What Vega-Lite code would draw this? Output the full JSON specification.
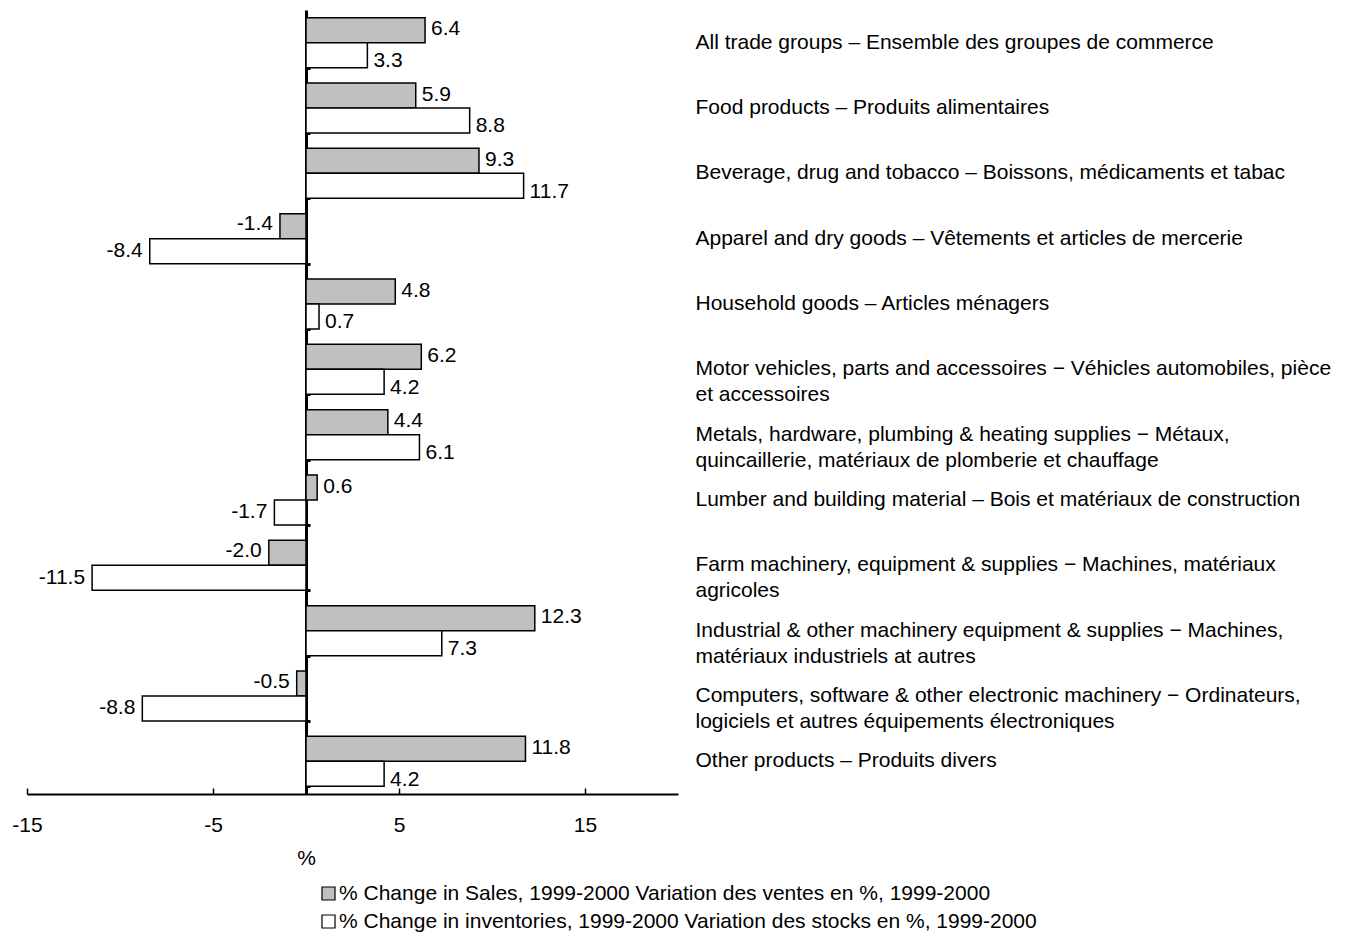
{
  "$schema": "https://vega.github.io/schema/vega-lite/v6.json",
  "width": 651,
  "height": 784,
  "padding": {"left": 11, "top": 10, "right": 5, "bottom": 5},
  "background": "white",
  "config": {
    "font": "Liberation Sans",
    "view": {"stroke": null},
    "locale": {"number": {"decimal": ".", "thousands": ",", "grouping": [3], "currency": ["$", ""], "minus": "-"}}
  },
  "data": {
    "values": [
      {"cat": "All trade groups – Ensemble des groupes de commerce", "series": "% Change in Sales, 1999-2000 Variation des ventes en %, 1999-2000", "value": 6.4},
      {"cat": "All trade groups – Ensemble des groupes de commerce", "series": "% Change in inventories, 1999-2000 Variation des stocks en %, 1999-2000", "value": 3.3},
      {"cat": "Food products – Produits alimentaires", "series": "% Change in Sales, 1999-2000 Variation des ventes en %, 1999-2000", "value": 5.9},
      {"cat": "Food products – Produits alimentaires", "series": "% Change in inventories, 1999-2000 Variation des stocks en %, 1999-2000", "value": 8.8},
      {"cat": "Beverage, drug and tobacco – Boissons, médicaments et tabac", "series": "% Change in Sales, 1999-2000 Variation des ventes en %, 1999-2000", "value": 9.3},
      {"cat": "Beverage, drug and tobacco – Boissons, médicaments et tabac", "series": "% Change in inventories, 1999-2000 Variation des stocks en %, 1999-2000", "value": 11.7},
      {"cat": "Apparel and dry goods – Vêtements et articles de mercerie", "series": "% Change in Sales, 1999-2000 Variation des ventes en %, 1999-2000", "value": -1.4},
      {"cat": "Apparel and dry goods – Vêtements et articles de mercerie", "series": "% Change in inventories, 1999-2000 Variation des stocks en %, 1999-2000", "value": -8.4},
      {"cat": "Household goods – Articles ménagers", "series": "% Change in Sales, 1999-2000 Variation des ventes en %, 1999-2000", "value": 4.8},
      {"cat": "Household goods – Articles ménagers", "series": "% Change in inventories, 1999-2000 Variation des stocks en %, 1999-2000", "value": 0.7},
      {"cat": "Motor vehicles, parts and accessoires − Véhicles automobiles, pièce|et accessoires", "series": "% Change in Sales, 1999-2000 Variation des ventes en %, 1999-2000", "value": 6.2},
      {"cat": "Motor vehicles, parts and accessoires − Véhicles automobiles, pièce|et accessoires", "series": "% Change in inventories, 1999-2000 Variation des stocks en %, 1999-2000", "value": 4.2},
      {"cat": "Metals, hardware, plumbing & heating supplies − Métaux,|quincaillerie, matériaux de plomberie et chauffage", "series": "% Change in Sales, 1999-2000 Variation des ventes en %, 1999-2000", "value": 4.4},
      {"cat": "Metals, hardware, plumbing & heating supplies − Métaux,|quincaillerie, matériaux de plomberie et chauffage", "series": "% Change in inventories, 1999-2000 Variation des stocks en %, 1999-2000", "value": 6.1},
      {"cat": "Lumber and building material – Bois et matériaux de construction", "series": "% Change in Sales, 1999-2000 Variation des ventes en %, 1999-2000", "value": 0.6},
      {"cat": "Lumber and building material – Bois et matériaux de construction", "series": "% Change in inventories, 1999-2000 Variation des stocks en %, 1999-2000", "value": -1.7},
      {"cat": "Farm machinery, equipment & supplies − Machines, matériaux|agricoles", "series": "% Change in Sales, 1999-2000 Variation des ventes en %, 1999-2000", "value": -2.0},
      {"cat": "Farm machinery, equipment & supplies − Machines, matériaux|agricoles", "series": "% Change in inventories, 1999-2000 Variation des stocks en %, 1999-2000", "value": -11.5},
      {"cat": "Industrial & other machinery equipment & supplies − Machines,|matériaux industriels at autres", "series": "% Change in Sales, 1999-2000 Variation des ventes en %, 1999-2000", "value": 12.3},
      {"cat": "Industrial & other machinery equipment & supplies − Machines,|matériaux industriels at autres", "series": "% Change in inventories, 1999-2000 Variation des stocks en %, 1999-2000", "value": 7.3},
      {"cat": "Computers, software & other electronic machinery − Ordinateurs,|logiciels et autres équipements électroniques", "series": "% Change in Sales, 1999-2000 Variation des ventes en %, 1999-2000", "value": -0.5},
      {"cat": "Computers, software & other electronic machinery − Ordinateurs,|logiciels et autres équipements électroniques", "series": "% Change in inventories, 1999-2000 Variation des stocks en %, 1999-2000", "value": -8.8},
      {"cat": "Other products – Produits divers", "series": "% Change in Sales, 1999-2000 Variation des ventes en %, 1999-2000", "value": 11.8},
      {"cat": "Other products – Produits divers", "series": "% Change in inventories, 1999-2000 Variation des stocks en %, 1999-2000", "value": 4.2}
    ]
  },
  "encoding": {
    "y": {"field": "cat", "type": "nominal", "sort": null,
          "scale": {"paddingInner": 0.235, "paddingOuter": 0.1175}},
    "yOffset": {"field": "series", "type": "nominal", "sort": null,
                "scale": {"paddingInner": 0, "paddingOuter": 0}},
    "x": {"field": "value", "type": "quantitative",
          "scale": {"domain": [-15, 20], "nice": false, "zero": false},
          "axis": {"values": [-15, -5, 5, 15], "grid": false, "title": "%", "format": "d",
                   "titleFontWeight": "normal", "titleFontSize": 21, "titleX": 279, "titleY": 64,
                   "titleBaseline": "middle", "titleAnchor": "middle", "labelFontSize": 21, "labelPadding": 37,
                   "labelFlush": false, "labelBaseline": "middle",
                   "domainColor": "black", "domainWidth": 2, "tickColor": "black", "tickWidth": 1.5,
                   "tickSize": -6, "labelColor": "black", "titleColor": "black"}}
  },
  "resolve": {"axis": {"y": "independent"}},
  "layer": [
    {
      "mark": {"type": "bar", "stroke": "black", "strokeWidth": 1.5},
      "encoding": {
        "y": {"field": "cat", "type": "nominal", "sort": null,
              "axis": {"orient": "left", "offset": -279, "labels": false, "title": null,
                       "domainColor": "black", "domainWidth": 3, "ticks": true, "tickBand": "extent",
                       "tickSize": -4, "tickWidth": 3, "tickColor": "black"}},
        "color": {"field": "series", "type": "nominal",
                  "scale": {"domain": ["% Change in Sales, 1999-2000 Variation des ventes en %, 1999-2000", "% Change in inventories, 1999-2000 Variation des stocks en %, 1999-2000"],
                            "range": ["#c0c0c0", "#ffffff"]},
                  "legend": {"orient": "none", "legendX": 291, "legendY": 873, "title": null,
                             "symbolType": "square", "symbolSize": 170, "symbolStrokeColor": "black",
                             "symbolStrokeWidth": 1.2, "labelFontSize": 21, "labelLimit": 1000,
                             "rowPadding": 6, "labelOffset": 0, "labelColor": "black"}}
      }
    },
    {
      "transform": [{"filter": "datum.value >= 0 && indexof(datum.series, 'Sales') >= 0"}],
      "mark": {"type": "text", "align": "left", "dx": 6, "dy": -1, "fontSize": 21, "color": "black"},
      "encoding": {
        "y": {"field": "cat", "type": "nominal", "sort": null,
              "axis": {"orient": "right", "domain": false, "ticks": false, "title": null,
                       "labelExpr": "split(datum.value, '|')", "labelFontSize": 21, "labelLineHeight": 26,
                       "labelPadding": 17, "labelLimit": 1000, "labelColor": "black", "labelAlign": "left"}},
        "text": {"field": "value", "type": "quantitative", "format": ".1f"}
      }
    },
    {
      "transform": [{"filter": "datum.value < 0 && indexof(datum.series, 'Sales') >= 0"}],
      "mark": {"type": "text", "align": "right", "dx": -7, "dy": -2, "fontSize": 21, "color": "black"},
      "encoding": {
        "y": {"field": "cat", "type": "nominal", "sort": null, "axis": null},
        "text": {"field": "value", "type": "quantitative", "format": ".1f"}
      }
    },
    {
      "transform": [{"filter": "datum.value >= 0 && indexof(datum.series, 'Sales') < 0"}],
      "mark": {"type": "text", "align": "left", "dx": 6, "dy": 6, "fontSize": 21, "color": "black"},
      "encoding": {
        "y": {"field": "cat", "type": "nominal", "sort": null, "axis": null},
        "text": {"field": "value", "type": "quantitative", "format": ".1f"}
      }
    },
    {
      "transform": [{"filter": "datum.value < 0 && indexof(datum.series, 'Sales') < 0"}],
      "mark": {"type": "text", "align": "right", "dx": -7, "dy": 0, "fontSize": 21, "color": "black"},
      "encoding": {
        "y": {"field": "cat", "type": "nominal", "sort": null, "axis": null},
        "text": {"field": "value", "type": "quantitative", "format": ".1f"}
      }
    }
  ]
}
